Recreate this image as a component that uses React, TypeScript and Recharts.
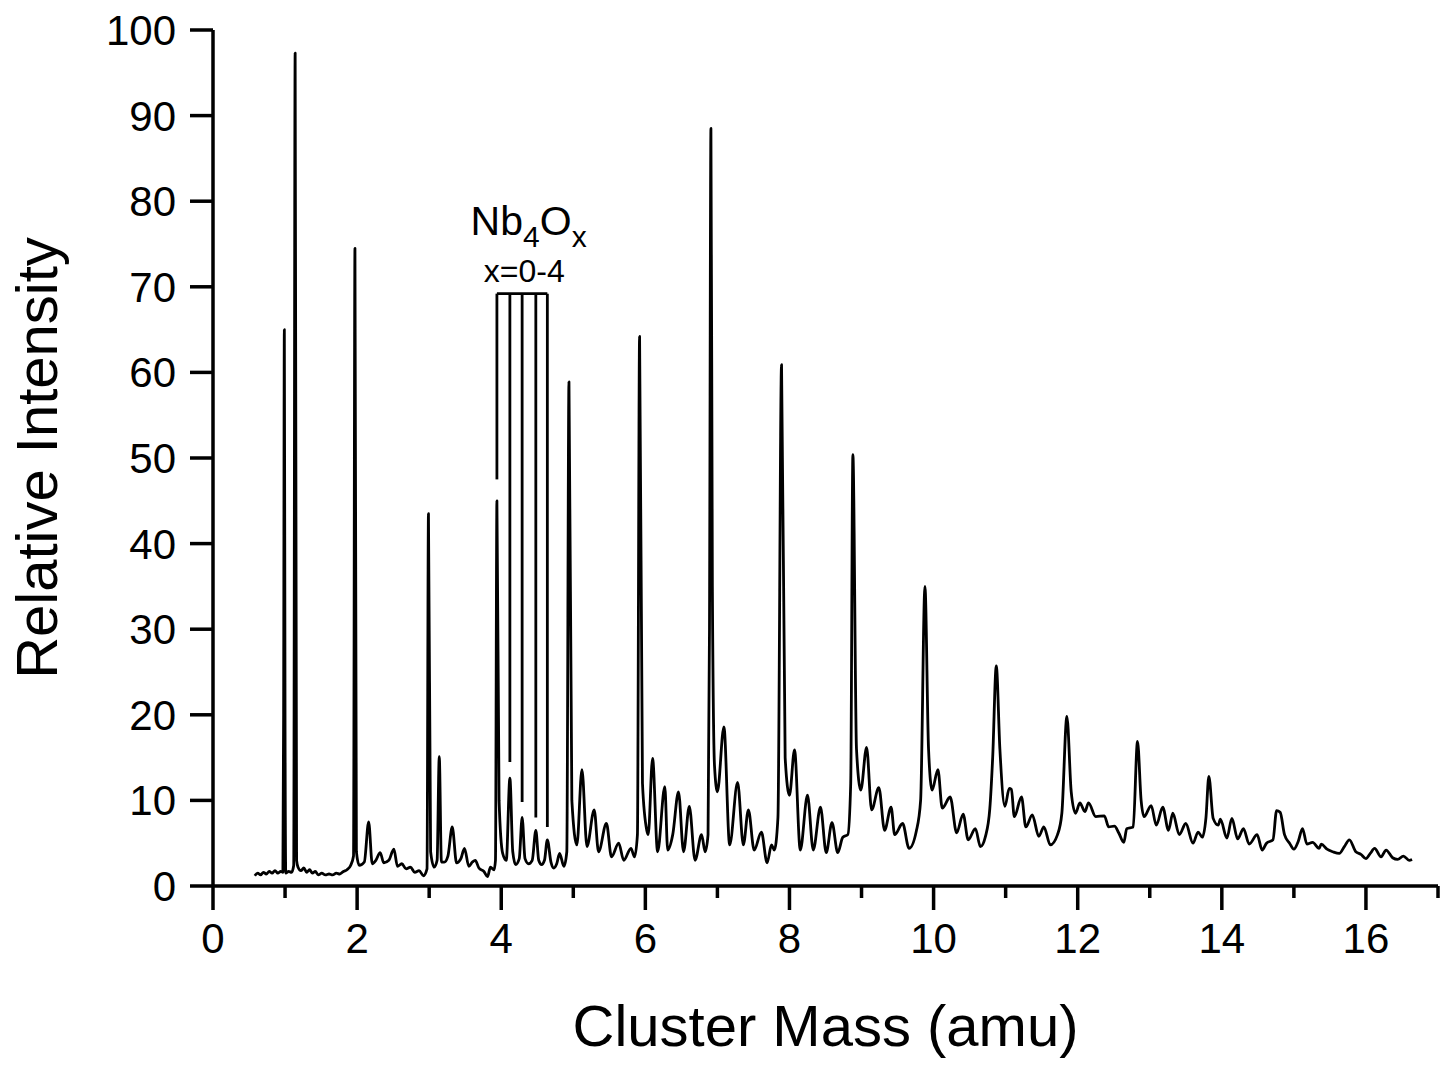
import React from 'react';
import { LineChart, Line, XAxis, YAxis, ReferenceLine, ReferenceDot } from 'recharts';

// Traced spectrum: cluster mass (amu) and relative intensity, row by row
const massValues: number[] = [
  0.58, 0.62, 0.66, 0.70, 0.74, 0.78, 0.82, 0.86, 0.90, 0.94,
  0.97, 0.98, 0.99, 1.00, 1.01, 1.05, 1.09, 1.12, 1.14, 1.16,
  1.18, 1.22, 1.26, 1.30, 1.34, 1.38, 1.42, 1.46, 1.51, 1.56,
  1.61, 1.66, 1.71, 1.76, 1.81, 1.86, 1.91, 1.95, 1.97, 1.99,
  2.03, 2.10, 2.16, 2.21, 2.26, 2.32, 2.37, 2.44, 2.51, 2.56,
  2.62, 2.68, 2.74, 2.80, 2.86, 2.92, 2.97, 2.99, 3.02, 3.07,
  3.11, 3.14, 3.17, 3.21, 3.26, 3.32, 3.38, 3.44, 3.49, 3.55,
  3.60, 3.64, 3.69, 3.76, 3.81, 3.85, 3.90, 3.92, 3.94, 3.97,
  4.02, 4.07, 4.12, 4.16, 4.20, 4.25, 4.29, 4.33, 4.38, 4.43,
  4.48, 4.52, 4.56, 4.60, 4.64, 4.69, 4.73, 4.77, 4.81, 4.87,
  4.91, 4.94, 4.98, 5.05, 5.12, 5.19, 5.29, 5.35, 5.46, 5.53,
  5.63, 5.70, 5.80, 5.85, 5.89, 5.92, 5.96, 6.02, 6.04, 6.10,
  6.17, 6.27, 6.31, 6.38, 6.46, 6.53, 6.61, 6.69, 6.78, 6.83,
  6.87, 6.89, 6.91, 6.93, 6.96, 7.00, 7.09, 7.17, 7.28, 7.36,
  7.43, 7.51, 7.61, 7.69, 7.75, 7.79, 7.84, 7.89, 7.94, 8.00,
  8.07, 8.15, 8.25, 8.33, 8.43, 8.51, 8.59, 8.67, 8.74, 8.81,
  8.85, 8.88, 8.93, 8.99, 9.07, 9.14, 9.24, 9.32, 9.41, 9.46,
  9.57, 9.66, 9.76, 9.82, 9.88, 9.93, 9.98, 10.06, 10.12, 10.23,
  10.32, 10.41, 10.48, 10.58, 10.65, 10.72, 10.78, 10.82, 10.87, 10.92,
  10.99, 11.05, 11.08, 11.12, 11.22, 11.28, 11.37, 11.46, 11.53, 11.62,
  11.72, 11.78, 11.85, 11.91, 11.97, 12.03, 12.10, 12.15, 12.25, 12.37,
  12.43, 12.51, 12.57, 12.64, 12.68, 12.77, 12.83, 12.88, 12.92, 13.02,
  13.09, 13.18, 13.26, 13.32, 13.41, 13.50, 13.60, 13.67, 13.73, 13.78,
  13.82, 13.88, 13.95, 13.98, 14.07, 14.14, 14.22, 14.30, 14.38, 14.49,
  14.56, 14.62, 14.71, 14.76, 14.81, 14.87, 14.94, 15.00, 15.06, 15.12,
  15.18, 15.26, 15.35, 15.38, 15.46, 15.54, 15.63, 15.70, 15.77, 15.86,
  15.93, 16.00, 16.06, 16.12, 16.21, 16.28, 16.37, 16.44, 16.52, 16.60,
  16.64,
];

const intensityValues: number[] = [
  1.2, 1.5, 1.3, 1.6, 1.4, 1.7, 1.5, 1.8, 1.5, 1.7,
  1.6, 20, 65, 18, 1.5, 1.7, 1.6, 2.4, 97.3, 3,
  2.2, 1.8, 2.1, 1.6, 1.9, 1.5, 1.7, 1.3, 1.5, 1.3,
  1.4, 1.3, 1.5, 1.4, 1.7, 1.9, 2.4, 3.5, 74.5, 4,
  2.4, 2.8, 7.5, 2.6, 3.0, 3.9, 2.7, 3.0, 4.3, 2.3,
  2.6, 2.0, 2.2, 1.6, 1.8, 1.2, 2.0, 43.5, 4.0, 2.2,
  3.0, 15.1, 2.8, 2.8, 3.5, 6.9, 2.7, 3.2, 4.4, 2.3,
  2.8, 3.0, 2.1, 1.7, 1.1, 2.2, 1.9, 3.0, 45, 10,
  3.8, 3.0, 12.6, 4.0, 2.5, 3.2, 8.0, 3.2, 2.6, 3.0,
  6.5, 3.0, 2.5, 3.0, 5.4, 2.8, 2.1, 2.6, 3.8, 2.3,
  4.0, 58.9, 10, 4.8, 13.6, 4.6, 8.9, 4.0, 7.3, 3.4,
  5.0, 3.0, 4.4, 3.4, 6.0, 64.2, 12, 6.5, 6.0, 14.9,
  4.0, 11.6, 4.2, 6.0, 11.0, 4.0, 9.3, 3.0, 6.0, 4.0,
  6.0, 30, 88.5, 35, 14, 11, 18.6, 4.8, 12.1, 4.8,
  8.9, 4.2, 6.3, 2.7, 4.8, 4.2, 8.0, 60.9, 15, 10.6,
  15.9, 4.2, 10.6, 4.2, 9.2, 3.9, 7.4, 3.9, 5.7, 6.0,
  12, 50.4, 16, 11.2, 16.2, 8.9, 11.5, 6.5, 9.2, 6.0,
  7.3, 4.4, 6.4, 10, 35, 16, 11.2, 13.6, 9.1, 10.4,
  6.2, 8.4, 5.4, 6.7, 4.6, 5.8, 9.0, 15, 25.7, 16,
  9.3, 11.4, 11.3, 8.1, 10.4, 6.9, 8.3, 5.8, 6.9, 4.8,
  6.0, 8.5, 19.8, 11, 8.5, 9.7, 8.7, 9.7, 8.1, 8.2,
  6.9, 7.0, 6.2, 5.1, 6.7, 6.9, 16.9, 10, 8.1, 9.4,
  7.1, 9.2, 6.5, 8.5, 6.0, 7.3, 5.0, 6.3, 5.7, 8.0,
  12.8, 7.9, 7.1, 7.8, 5.6, 7.9, 5.5, 6.7, 4.9, 6.0,
  4.2, 5.0, 5.4, 8.8, 8.6, 6.0, 5.0, 4.3, 5.2, 6.7,
  4.9, 5.1, 4.4, 4.9, 4.3, 4.0, 3.8, 4.6, 5.4, 4.0,
  3.7, 3.2, 3.8, 4.4, 3.4, 4.2, 3.3, 3.1, 3.5, 3.0,
  3.1,
];

const xTicks: number[] = [0, 1, 2, 3, 4, 5, 6, 7, 8, 9, 10, 11, 12, 13, 14, 15, 16, 17];
const yTicks: number[] = [0, 10, 20, 30, 40, 50, 60, 70, 80, 90, 100];

// Nb4Ox (x = 0-4) bracket: positions and lower ends of the vertical strokes
const bracketMass: number[] = [3.94, 4.12, 4.29, 4.48, 4.64];
const bracketBottom: number[] = [47.5, 14.5, 9.8, 8.0, 6.9];
const bracketTop = 69.2;

const data = massValues.map((m, i) => ({ mass: m, intensity: intensityValues[i] }));

const FONT = '"Liberation Sans", Arial, Helvetica, sans-serif';

const XTick = (props: any) => {
  const { x, y, payload } = props;
  const v = payload.value as number;
  const major = v % 2 === 0;
  const len = major ? 24 : 12;
  return (
    <g>
      <line x1={x} y1={y} x2={x} y2={y + len} stroke="#000" strokeWidth={3.5} />
      {major && v <= 16 ? (
        <text x={x} y={y + 37} dy="0.71em" textAnchor="middle" fontSize={42} fontFamily={FONT} fill="#000">
          {v}
        </text>
      ) : null}
    </g>
  );
};

const NbLabel = (props: any) => {
  const { cx, cy } = props;
  return (
    <text x={cx} y={cy} textAnchor="middle" fontFamily={FONT} fill="#000">
      <tspan fontSize={41}>Nb</tspan>
      <tspan fontSize={30} dy={12}>4</tspan>
      <tspan fontSize={41} dy={-12}>O</tspan>
      <tspan fontSize={30} dy={12}>x</tspan>
    </text>
  );
};

const RangeLabel = (props: any) => {
  const { cx, cy } = props;
  return (
    <text x={cx} y={cy} textAnchor="middle" fontFamily={FONT} fontSize={32} fill="#000">
      x=0-4
    </text>
  );
};

export default function App() {
  return (
    <div style={{ position: 'absolute', left: 0, top: 0, width: 1445, height: 1070, background: '#fff' }}>
      <LineChart
        width={1445}
        height={1070}
        data={data}
        margin={{ top: 30, right: 7, bottom: 84, left: 113 }}
      >
        <XAxis
          dataKey="mass"
          type="number"
          domain={[0, 17]}
          ticks={xTicks}
          interval={0}
          allowDataOverflow
          height={100}
          axisLine={{ stroke: '#000', strokeWidth: 3.5 }}
          tickLine={false}
          tickSize={0}
          tickMargin={0}
          tick={<XTick />}
          label={{
            value: 'Cluster Mass (amu)',
            position: 'insideBottom',
            offset: -60,
            style: { fontSize: 58, fontFamily: FONT, fill: '#000', textAnchor: 'middle' },
          }}
        />
        <YAxis
          type="number"
          domain={[0, 100]}
          ticks={yTicks}
          interval={0}
          allowDataOverflow
          width={100}
          axisLine={{ stroke: '#000', strokeWidth: 3.5 }}
          tickLine={{ stroke: '#000', strokeWidth: 3.5 }}
          tickSize={23}
          tickMargin={14}
          tick={{ fontSize: 42, fontFamily: FONT, fill: '#000' }}
          label={{
            value: 'Relative Intensity',
            angle: -90,
            position: 'insideLeft',
            offset: -77,
            style: { fontSize: 58, fontFamily: FONT, fill: '#000', textAnchor: 'middle' },
          }}
        />
        <Line
          dataKey="intensity"
          type="monotoneX"
          stroke="#000"
          strokeWidth={2.8}
          strokeLinejoin="round"
          dot={false}
          activeDot={false}
          isAnimationActive={false}
        />
        {bracketMass.map((m, i) => (
          <ReferenceLine
            key={'b' + i}
            segment={[{ x: m, y: bracketTop }, { x: m, y: bracketBottom[i] }]}
            stroke="#000"
            strokeWidth={2.8}
          />
        ))}
        <ReferenceLine
          segment={[
            { x: bracketMass[0], y: bracketTop },
            { x: bracketMass[bracketMass.length - 1], y: bracketTop },
          ]}
          stroke="#000"
          strokeWidth={2.8}
        />
        <ReferenceDot x={4.38} y={76.1} r={0} shape={<NbLabel />} />
        <ReferenceDot x={4.32} y={70.6} r={0} shape={<RangeLabel />} />
      </LineChart>
    </div>
  );
}
